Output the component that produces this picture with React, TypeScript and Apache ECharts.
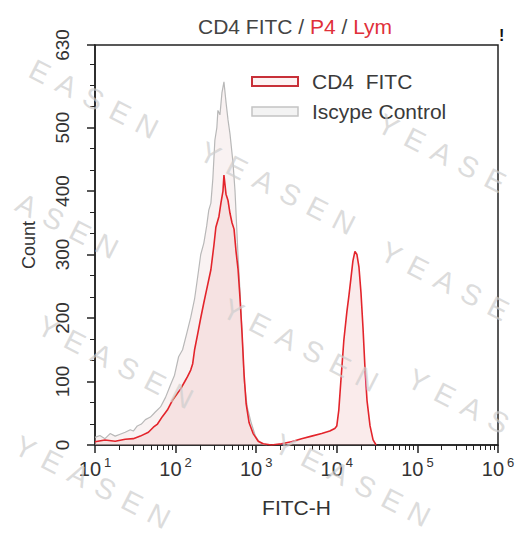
import React, { useEffect, useRef } from 'react';
import * as echarts from 'echarts';

// CD4 FITC histogram (FITC-H value, count)
const CD4_X = [10, 13.3, 17.8, 23.7, 29.9, 36.5, 46, 53, 59.6, 68.8, 79, 91, 106, 115, 130, 141, 154, 163, 172, 188, 205, 224, 243, 274, 299, 316, 345, 365, 387, 398, 422, 447, 473, 501, 531, 562, 596, 631, 668, 708, 750, 817, 917, 1059, 1222, 1540, 2054, 2738, 3652, 4870, 6494, 8180, 9441, 10000, 10590, 11220, 12230, 13340, 14130, 14960, 15850, 16790, 17780, 18840, 19950, 21130, 22390, 23710, 25850, 28180, 30720];
const CD4_COUNT = [5, 8, 6, 9, 10, 14, 20, 28, 33, 45, 55, 70, 82, 88, 100, 108, 118, 128, 150, 175, 200, 224, 245, 276, 315, 343, 360, 381, 400, 425, 395, 385, 365, 350, 340, 305, 276, 230, 175, 110, 65, 35, 18, 6, 2, 0, 2, 5, 10, 14, 18, 22, 26, 30, 55, 100, 165, 210, 235, 262, 290, 305, 300, 280, 240, 185, 120, 70, 30, 8, 0];

// Isotype control histogram
const ISO_X = [10, 11.5, 13.3, 15.4, 17.8, 20.5, 23.7, 27.4, 29.9, 33.5, 37.6, 42.2, 48.7, 56, 65, 75, 86.6, 97, 109, 122, 137, 154, 172, 188, 205, 224, 243, 258, 274, 290, 307, 325, 335, 355, 376, 398, 422, 447, 473, 516, 546, 596, 631, 668, 708, 773, 866, 972, 1091, 1222, 1370];
const ISO_COUNT = [12, 15, 10, 18, 14, 17, 20, 24, 22, 30, 33, 40, 44, 52, 60, 75, 95, 110, 139, 150, 175, 201, 230, 265, 300, 318, 345, 370, 381, 420, 480, 500, 527, 520, 555, 572, 540, 512, 490, 444, 400, 296, 240, 175, 102, 60, 35, 15, 5, 1, 0];

const SERIES_NAMES = ['CD4  FITC', 'Iscype Control'];
const Y_MAJOR = [0, 100, 200, 300, 400, 500, 630];
const Y_MINOR = [33.3, 66.7, 133.3, 166.7, 233.3, 266.7, 333.3, 366.7, 433.3, 466.7, 533.3, 566.7, 600];
const X_MINOR = [20, 30, 40, 50, 60, 70, 80, 90, 200, 300, 400, 500, 600, 700, 800, 900, 2000, 3000, 4000, 5000, 6000, 7000, 8000, 9000, 20000, 30000, 40000, 50000, 60000, 70000, 80000, 90000, 200000, 300000, 400000, 500000, 600000, 700000, 800000, 900000];
const WATERMARK_WORD = 'YEASEN';

const FONT = '"Liberation Sans", Arial, sans-serif';
const AXIS_COLOR = '#222';
const W = 518;
const H = 534;

// one watermark word, drawn letter by letter so that only whole letters are shown
function watermark(cx: number, cy: number) {
  const ang = 0.47;
  const step = 30;
  const dx = Math.cos(ang);
  const dy = Math.sin(ang);
  const out: any[] = [];
  const letters = WATERMARK_WORD.split('');
  letters.forEach((ch, i) => {
    const t = (i - (letters.length - 1) / 2) * step;
    const x = cx + dx * t;
    const y = cy + dy * t;
    if (x < 18 || x > W - 18 || y < 18 || y > H - 18) return;
    out.push({
      type: 'text',
      x,
      y,
      rotation: -ang,
      z: 100,
      silent: true,
      style: {
        text: ch,
        fill: 'rgba(205,205,205,0.7)',
        font: '29px ' + FONT,
        align: 'center',
        verticalAlign: 'middle',
      },
    });
  });
  return out;
}

export default function App() {
  const ref = useRef<HTMLDivElement>(null);
  useEffect(() => {
    if (!ref.current) return;
    const chart = echarts.init(ref.current, null, { renderer: 'svg' });
    const option: any = {
      animation: false,
      backgroundColor: '#fff',
      title: {
        text: '{a|CD4 FITC / }{b|P4}{a| / }{b|Lym}',
        left: 193,
        top: 11,
        textStyle: {
          fontWeight: 'normal',
          rich: {
            a: { fontSize: 21, color: '#444', fontFamily: FONT, fontWeight: 'normal' },
            b: { fontSize: 21, color: '#e0303a', fontFamily: FONT, fontWeight: 'normal' },
          },
        },
      },
      legend: {
        orient: 'vertical',
        left: 246,
        top: 66,
        itemWidth: 46,
        itemHeight: 9,
        itemGap: 9,
        icon: 'rect',
        formatter: '{t|{name}}',
        textStyle: {
          color: '#3a3a3a',
          fontFamily: FONT,
          fontSize: 21,
          rich: { t: { fontSize: 21, fontFamily: FONT, color: '#3a3a3a', padding: [0, 0, 0, 9] } },
        },
        data: [
          { name: SERIES_NAMES[0], itemStyle: { color: '#fdf3f3', borderColor: '#c83038', borderWidth: 2 } },
          { name: SERIES_NAMES[1], itemStyle: { color: '#f3f3f3', borderColor: '#c4c4c4', borderWidth: 1.5 } },
        ],
      },
      grid: {
        left: 95,
        right: 20,
        top: 45,
        bottom: 89,
        show: true,
        borderColor: AXIS_COLOR,
        borderWidth: 1.5,
        backgroundColor: 'transparent',
      },
      xAxis: [
        {
          type: 'log',
          logBase: 10,
          min: 10,
          max: 1000000,
          splitNumber: 5,
          position: 'bottom',
          axisLine: { show: true, lineStyle: { color: AXIS_COLOR, width: 1.5 } },
          axisTick: { show: true, length: 8, lineStyle: { color: AXIS_COLOR, width: 1.5 } },
          splitLine: { show: false },
          axisLabel: {
            margin: 11,
            formatter: (v: number) => '{b|10}{s|' + Math.round(Math.log10(v)) + '}',
            rich: {
              b: { fontSize: 20, color: '#333', fontFamily: FONT },
              s: { fontSize: 13, color: '#333', fontFamily: FONT, padding: [0, 0, 12, 3] },
            },
          },
          name: 'FITC-H',
          nameLocation: 'middle',
          nameGap: 52,
          nameTextStyle: { fontSize: 21, color: '#333', fontFamily: FONT },
        },
        {
          type: 'value',
          min: 1,
          max: 6,
          position: 'bottom',
          axisLine: { show: false },
          axisLabel: { show: false },
          splitLine: { show: false },
          axisTick: {
            show: true,
            length: 5,
            customValues: X_MINOR.map((v) => Math.log10(v)),
            lineStyle: { color: AXIS_COLOR, width: 1 },
          },
        },
      ],
      yAxis: [
        {
          type: 'value',
          min: 0,
          max: 630,
          position: 'left',
          axisLine: { show: true, lineStyle: { color: AXIS_COLOR, width: 1.5 } },
          axisTick: { show: true, length: 8, customValues: Y_MAJOR, lineStyle: { color: AXIS_COLOR, width: 1.5 } },
          splitLine: { show: false },
          axisLabel: {
            customValues: Y_MAJOR,
            rotate: 90,
            margin: 23,
            fontSize: 19,
            color: '#333',
            fontFamily: FONT,
          },
          name: 'Count',
          nameLocation: 'middle',
          nameGap: 57,
          nameRotate: 90,
          nameTextStyle: { fontSize: 18, color: '#333', fontFamily: FONT },
        },
        {
          type: 'value',
          min: 0,
          max: 630,
          position: 'left',
          axisLine: { show: false },
          axisLabel: { show: false },
          splitLine: { show: false },
          axisTick: { show: true, length: 5, customValues: Y_MINOR, lineStyle: { color: AXIS_COLOR, width: 1 } },
        },
      ],
      series: [
        {
          type: 'line',
          name: SERIES_NAMES[1],
          xAxisIndex: 0,
          yAxisIndex: 0,
          data: ISO_X.map((x, i) => [x, ISO_COUNT[i]]),
          symbol: 'none',
          showSymbol: false,
          z: 2,
          lineStyle: { color: '#b8b8b8', width: 1.2 },
          areaStyle: { color: 'rgba(236,214,214,0.45)' },
        },
        {
          type: 'line',
          name: SERIES_NAMES[0],
          xAxisIndex: 0,
          yAxisIndex: 0,
          data: CD4_X.map((x, i) => [x, CD4_COUNT[i]]),
          symbol: 'none',
          showSymbol: false,
          z: 3,
          lineStyle: { color: '#e3242b', width: 1.6 },
          areaStyle: { color: 'rgba(240,190,190,0.45)' },
        },
      ],
      graphic: [
        {
          type: 'text',
          x: 499,
          y: 27,
          z: 50,
          style: { text: '!', font: 'bold 16px ' + FONT, fill: '#111' },
        },
        ...watermark(80, 92),
        ...watermark(277, 188),
        ...watermark(455, 160),
        ...watermark(40, 212),
        ...watermark(458, 288),
        ...watermark(115, 362),
        ...watermark(300, 345),
        ...watermark(485, 415),
        ...watermark(92, 482),
        ...watermark(352, 480),
      ],
    };
    chart.setOption(option);
    return () => chart.dispose();
  }, []);
  return <div ref={ref} style={{ position: 'fixed', left: 0, top: 0, width: W, height: H }} />;
}
